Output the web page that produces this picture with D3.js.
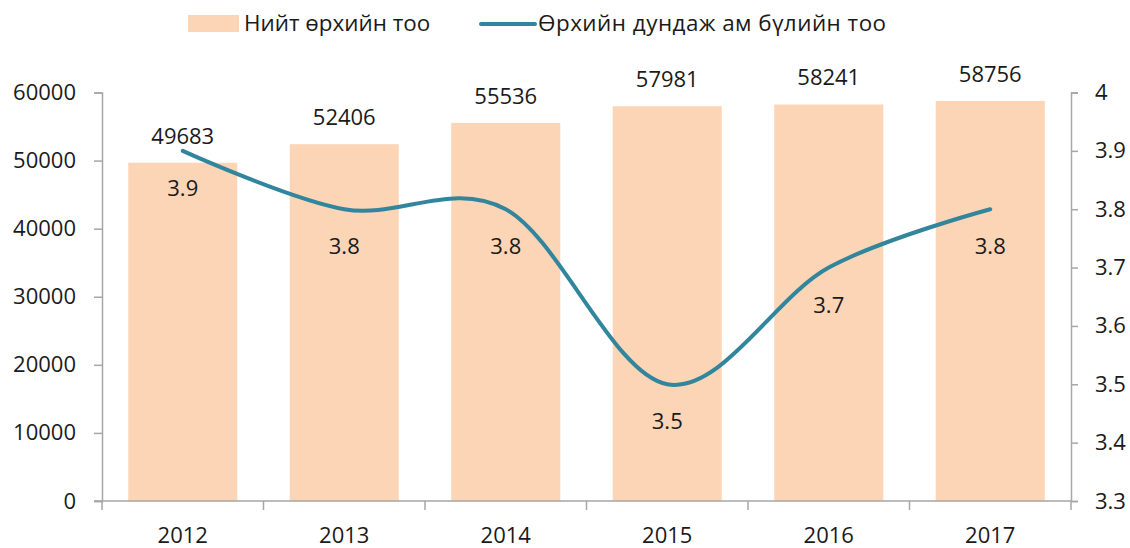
<!DOCTYPE html>
<html lang="mn">
<head>
<meta charset="utf-8">
<title>Өрхийн тоо</title>
<script src="https://d3js.org/d3.v7.min.js"></script>
<style>
  body { margin: 0; background: #fff; }
  svg text { font-family: "Open Sans", sans-serif; fill: #1a1a1a; }
  .axis path, .axis line { stroke: #a6a6a6; stroke-width: 1.5; }
  .axis text { font-size: 22px; }
</style>
</head>
<body>
<script>
// data
var years = ["2012", "2013", "2014", "2015", "2016", "2017"];
var households = [49683, 52406, 55536, 57981, 58241, 58756];
var avgSize = [3.9, 3.8, 3.8, 3.5, 3.7, 3.8];
var leftTicks = [0, 10000, 20000, 30000, 40000, 50000, 60000];
var rightTicks = [3.3, 3.4, 3.5, 3.6, 3.7, 3.8, 3.9, 4];
var seriesNames = ["Нийт өрхийн тоо", "Өрхийн дундаж ам бүлийн тоо"];

var width = 1130, height = 548;
var mLeft = 102, mRight = 1071, mTop = 92.5, mBottom = 501;
var fs = "22px";

var svg = d3.select("body").append("svg")
    .attr("width", width)
    .attr("height", height);

var x = d3.scaleBand().domain(years).range([mLeft, mRight]).paddingInner(0).paddingOuter(0);
var barW = x.bandwidth() * 0.675;
var yL = d3.scaleLinear().domain([0, 60000]).range([mBottom, mTop]);
var yR = d3.scaleLinear().domain([3.3, 4]).range([mBottom, mTop]);

// bars
svg.selectAll("rect.bar")
    .data(households)
    .enter().append("rect")
    .attr("class", "bar")
    .attr("x", (d, i) => x(years[i]) + (x.bandwidth() - barW) / 2)
    .attr("width", barW)
    .attr("y", d => yL(d))
    .attr("height", d => mBottom - yL(d))
    .attr("fill", "#fbd5b5");

// left axis
svg.append("g").attr("class", "axis")
    .attr("transform", "translate(" + mLeft + ",0)")
    .call(d3.axisLeft(yL).tickValues(leftTicks).tickSize(8).tickSizeOuter(8).tickPadding(18).tickFormat(d3.format("d")));

// right axis
svg.append("g").attr("class", "axis")
    .attr("transform", "translate(" + mRight + ",0)")
    .call(d3.axisRight(yR).tickValues(rightTicks).tickSize(7).tickSizeOuter(7).tickPadding(17)
        .tickFormat(d => d === 4 ? "4" : d3.format(".1f")(d)));

// bottom axis, ticks between categories
var axB = svg.append("g").attr("class", "axis")
    .attr("transform", "translate(0," + mBottom + ")");
axB.append("line").attr("x1", mLeft - 8).attr("x2", mRight).attr("y1", 0).attr("y2", 0);
axB.selectAll("line.tk")
    .data(years.concat(["end"]))
    .enter().append("line")
    .attr("class", "tk")
    .attr("x1", (d, i) => mLeft + i * x.step())
    .attr("x2", (d, i) => mLeft + i * x.step())
    .attr("y1", 0).attr("y2", 9);
axB.selectAll("text")
    .data(years)
    .enter().append("text")
    .attr("x", d => x(d) + x.bandwidth() / 2)
    .attr("y", 42)
    .attr("text-anchor", "middle")
    .style("font-size", fs)
    .text(d => d);

// bar value labels
svg.selectAll("text.bl")
    .data(households)
    .enter().append("text")
    .attr("class", "bl")
    .attr("x", (d, i) => x(years[i]) + x.bandwidth() / 2)
    .attr("y", d => yL(d) - 19)
    .attr("text-anchor", "middle")
    .style("font-size", fs)
    .text(d => d);

// line
var pts = avgSize.map((d, i) => [x(years[i]) + x.bandwidth() / 2, yR(d)]);
svg.append("path")
    .attr("d", d3.line().curve(d3.curveCardinal.tension(0))(pts))
    .attr("fill", "none")
    .attr("stroke", "#31859c")
    .attr("stroke-width", 4)
    .attr("stroke-linecap", "round");

// line value labels
svg.selectAll("text.ll")
    .data(avgSize)
    .enter().append("text")
    .attr("class", "ll")
    .attr("x", (d, i) => pts[i][0])
    .attr("y", (d, i) => pts[i][1] + 45)
    .attr("text-anchor", "middle")
    .style("font-size", fs)
    .text(d => d3.format(".1f")(d));

// legend
var lg = svg.append("g");
lg.append("rect").attr("x", 188).attr("y", 15).attr("width", 51).attr("height", 17).attr("fill", "#fbd5b5");
lg.append("text").attr("x", 244).attr("y", 31).style("font-size", "22.4px").text(seriesNames[0]);
lg.append("line").attr("x1", 481).attr("x2", 535).attr("y1", 24).attr("y2", 24)
    .attr("stroke", "#31859c").attr("stroke-width", 4).attr("stroke-linecap", "round");
lg.append("text").attr("x", 538).attr("y", 31).style("font-size", "22.4px").style("letter-spacing", "0.5px").text(seriesNames[1]);
</script>
</body>
</html>
